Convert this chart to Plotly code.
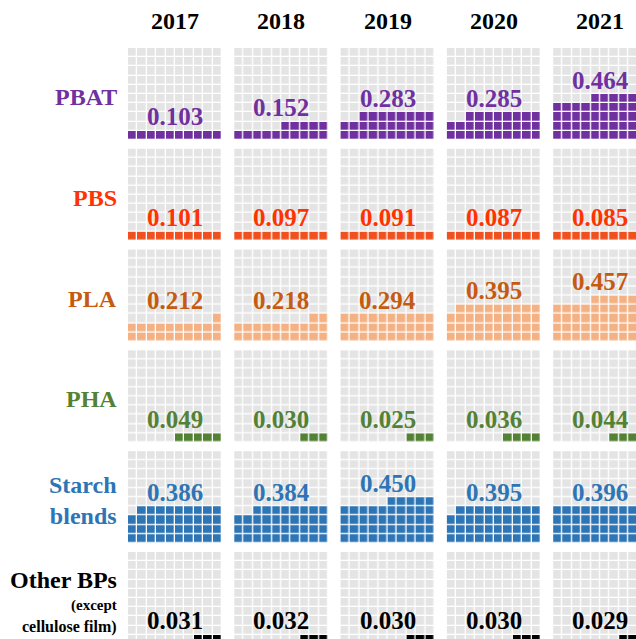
import plotly.graph_objects as go

# ---- data ----
years = ["2017", "2018", "2019", "2020", "2021"]
materials = ["PBAT", "PBS", "PLA", "PHA", "Starch blends", "Other BPs"]

pbat = [0.103, 0.152, 0.283, 0.285, 0.464]
pbs = [0.101, 0.097, 0.091, 0.087, 0.085]
pla = [0.212, 0.218, 0.294, 0.395, 0.457]
pha = [0.049, 0.030, 0.025, 0.036, 0.044]
starch = [0.386, 0.384, 0.450, 0.395, 0.396]
other = [0.031, 0.032, 0.030, 0.030, 0.029]

# number of filled waffle cells (out of 100) as drawn in the picture
pbat_cells = [10, 15, 28, 28, 46]
pbs_cells = [10, 10, 10, 10, 10]
pla_cells = [21, 22, 30, 39, 46]
pha_cells = [5, 3, 3, 4, 4]
starch_cells = [39, 38, 45, 39, 40]
other_cells = [3, 3, 3, 3, 3]

values = [pbat, pbs, pla, pha, starch, other]
cells = [pbat_cells, pbs_cells, pla_cells, pha_cells, starch_cells, other_cells]

# ---- styles ----
fill_colors = ["#7030A0", "#F0501E", "#F4B183", "#548235", "#2E75B6", "#000000"]
text_colors = ["#7030A0", "#FF3300", "#C55A11", "#538135", "#2E75B6", "#000000"]
label_html = ["PBAT", "PBS", "PLA", "PHA", "Starch<br>blends", None]
grey = "#E4E4E4"
FONT = "Liberation Serif, Times New Roman, serif"

W, H = 636, 639
X0, COL_PITCH, WAF_W = 128, 106.3, 94
Y0, ROW_PITCH, WAF_H = 48, 100.8, 92
N = 10
cw, ch = WAF_W / N, WAF_H / N
LABEL_X = 119

fig = go.Figure()
annotations = []

for i, mat in enumerate(materials):
    top = Y0 + i * ROW_PITCH
    for j, yr in enumerate(years):
        left = X0 + j * COL_PITCH
        n = cells[i][j]
        z = [[0] * N for _ in range(N)]
        for k in range(n):
            z[N - 1 - k // N][N - 1 - k % N] = 1
        fig.add_trace(go.Heatmap(
            z=z, x0=left + cw / 2, dx=cw, y0=top + ch / 2, dy=ch,
            zmin=0, zmax=1,
            colorscale=[[0, grey], [1, fill_colors[i]]],
            showscale=False, xgap=1.3, ygap=1.3, hoverinfo="skip",
        ))
        rows_filled = -(-n // N)
        fill_top = top + WAF_H - rows_filled * ch
        annotations.append(dict(
            x=left + WAF_W / 2, y=fill_top - 14, xref="x", yref="y",
            text=f"<b>{values[i][j]:.3f}</b>", showarrow=False,
            font=dict(family=FONT, size=25, color=text_colors[i]),
            xanchor="center", yanchor="middle",
        ))
    # row labels
    cy = top + WAF_H / 2 + 3
    if label_html[i] is not None:
        annotations.append(dict(
            x=LABEL_X, y=cy, xref="x", yref="y", text=f"<b>{label_html[i]}</b>",
            showarrow=False, xanchor="right", yanchor="middle", align="right",
            font=dict(family=FONT, size=24, color=text_colors[i]),
        ))
    else:
        annotations.append(dict(
            x=LABEL_X, y=top + 28, xref="x", yref="y", text="<b>Other BPs</b>",
            showarrow=False, xanchor="right", yanchor="middle", align="right",
            font=dict(family=FONT, size=24, color="#000000"),
        ))
        annotations.append(dict(
            x=LABEL_X, y=top + 53, xref="x", yref="y", text="<b>(except</b>",
            showarrow=False, xanchor="right", yanchor="middle", align="right",
            font=dict(family=FONT, size=15, color="#000000"),
        ))
        annotations.append(dict(
            x=LABEL_X, y=top + 75, xref="x", yref="y", text="<b>cellulose film)</b>",
            showarrow=False, xanchor="right", yanchor="middle", align="right",
            font=dict(family=FONT, size=16, color="#000000"),
        ))

for j, yr in enumerate(years):
    annotations.append(dict(
        x=X0 + j * COL_PITCH + WAF_W / 2, y=21, xref="x", yref="y",
        text=f"<b>{yr}</b>", showarrow=False, xanchor="center", yanchor="middle",
        font=dict(family=FONT, size=24, color="#000000"),
    ))

fig.update_layout(
    width=W, height=H, margin=dict(l=0, r=0, t=0, b=0),
    paper_bgcolor="white", plot_bgcolor="white",
    xaxis=dict(range=[0, W], visible=False, fixedrange=True),
    yaxis=dict(range=[H, 0], visible=False, fixedrange=True),
    annotations=annotations, showlegend=False,
)

fig.write_html(
    "out.html",
    config={"displayModeBar": False},
    post_script="document.body.style.margin='0';document.body.style.overflow='hidden';",
)
